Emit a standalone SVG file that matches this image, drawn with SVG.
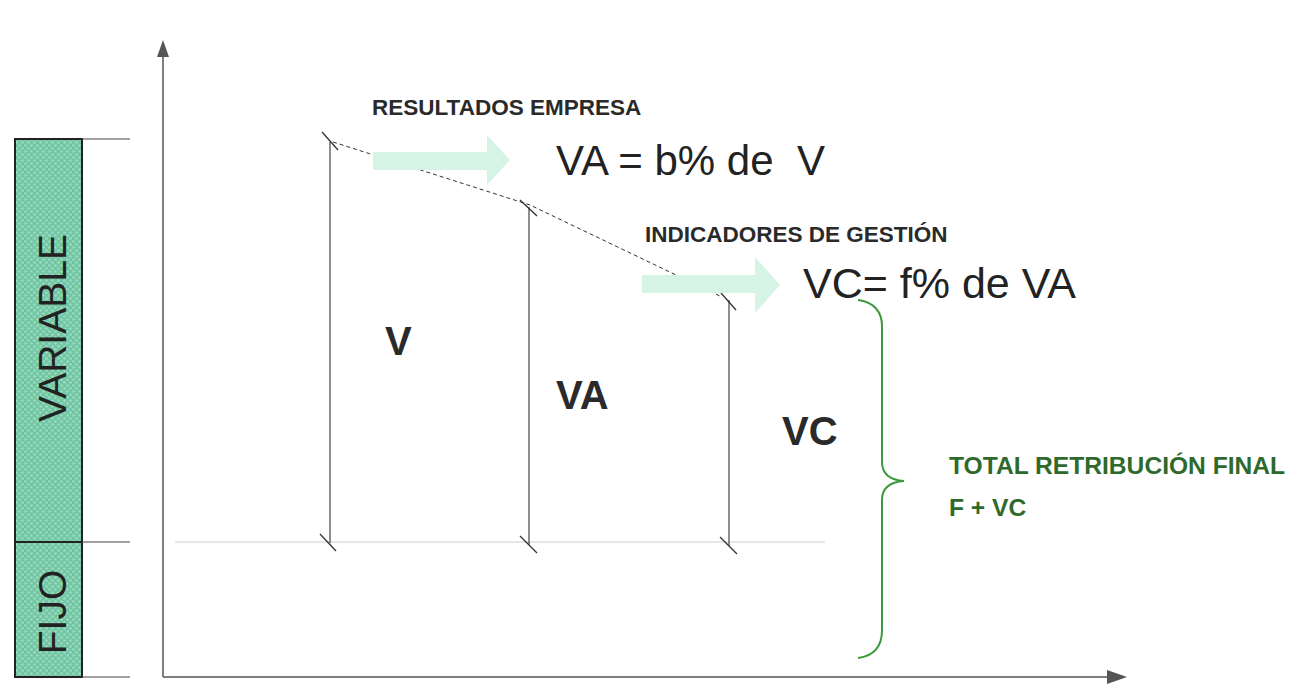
<svg xmlns="http://www.w3.org/2000/svg" width="1299" height="684" viewBox="0 0 1299 684">
<defs>
<style>
.axis{stroke:#555;stroke-width:1.5;fill:none}
.thin{stroke:#444;stroke-width:1.2;fill:none}
.tick{stroke:#333;stroke-width:1.3;fill:none}
.bold{font-family:"Liberation Sans",Arial,sans-serif;font-weight:bold;fill:#2a2a2a}
.reg{font-family:"Liberation Sans",Arial,sans-serif;fill:#222}
.green{font-family:"Liberation Sans",Arial,sans-serif;font-weight:bold;fill:#2f6a2c}
.mint{fill:#d6f4e6}
</style>
<pattern id="dots" width="6" height="6" patternUnits="userSpaceOnUse">
<rect width="6" height="6" fill="#72c6a3"/>
<circle cx="1.5" cy="1.5" r="1.3" fill="#9ddcc2"/>
<circle cx="4.5" cy="4.5" r="1.3" fill="#9ddcc2"/>
</pattern>
</defs>
<rect width="1299" height="684" fill="#fff"/>

<g id="axes">
<line class="axis" x1="163" y1="56" x2="163" y2="677"/>
<polygon points="163,40 157,57 169,57" fill="#555"/>
<line class="axis" x1="163" y1="677" x2="1108" y2="677"/>
<polygon points="1127,677 1107,670 1107,684" fill="#555"/>
</g>

<g id="scale-bar">
<rect x="15" y="139" width="67" height="538" fill="url(#dots)" stroke="#222" stroke-width="2"/>
<line x1="15" y1="542" x2="82" y2="542" stroke="#222" stroke-width="2"/>
<line class="thin" x1="82" y1="139" x2="130" y2="139"/>
<line class="thin" x1="82" y1="542" x2="130" y2="542"/>
<line class="thin" x1="82" y1="677" x2="130" y2="677"/>
<text class="reg" font-size="39" transform="translate(66,328) rotate(-90)" text-anchor="middle">VARIABLE</text>
<text class="reg" font-size="39" transform="translate(66,612) rotate(-90)" text-anchor="middle">FIJO</text>
</g>

<g id="connectors">
<line x1="175" y1="542" x2="825" y2="542" stroke="#ccc" stroke-width="1"/>
<line class="thin" x1="330" y1="142" x2="330" y2="543"/>
<line class="thin" x1="529" y1="207" x2="529" y2="545"/>
<line class="thin" x1="729" y1="300" x2="729" y2="546"/>
<polyline points="333,142 530,205 722,297" fill="none" stroke="#333" stroke-width="1" stroke-dasharray="4,3"/>
<line class="tick" x1="322" y1="132" x2="338" y2="150"/>
<line class="tick" x1="520" y1="200" x2="537" y2="216"/>
<line class="tick" x1="721" y1="293" x2="736" y2="310"/>
<line class="tick" x1="320" y1="534" x2="336" y2="551"/>
<line class="tick" x1="520" y1="536" x2="537" y2="553"/>
<line class="tick" x1="720" y1="537" x2="737" y2="554"/>
</g>

<g id="arrow-resultados">
<polygon class="mint" points="373,152 487,152 487,135 510,160 487,185 487,170 373,170"/>
<text class="bold" x="372" y="115" font-size="22.5">RESULTADOS EMPRESA</text>
<text class="reg" x="556" y="175" font-size="42" xml:space="preserve">VA = b% de  V</text>
</g>

<g id="arrow-indicadores">
<polygon class="mint" points="642,275 755,275 755,257 780,285 755,313 755,293 642,293"/>
<text class="bold" x="645" y="242" font-size="22.5">INDICADORES DE GESTIÓN</text>
<text class="reg" x="803" y="298" font-size="43">VC= f% de VA</text>
</g>

<g id="labels">
<text class="bold" x="385" y="355" font-size="40">V</text>
<text class="bold" x="556" y="409" font-size="40">VA</text>
<text class="bold" x="782" y="445" font-size="40">VC</text>
</g>

<g id="total">
<path d="M858,300 C874,302 882,312 882,326 L882,462 C882,474 890,480 904,481 C890,482 882,488 882,500 L882,630 C882,646 874,656 858,658" fill="none" stroke="#3c9a3c" stroke-width="2"/>
<text class="green" x="949" y="474" font-size="24.6">TOTAL RETRIBUCIÓN FINAL</text>
<text class="green" x="949" y="516" font-size="24.6">F + VC</text>
</g>
</svg>
